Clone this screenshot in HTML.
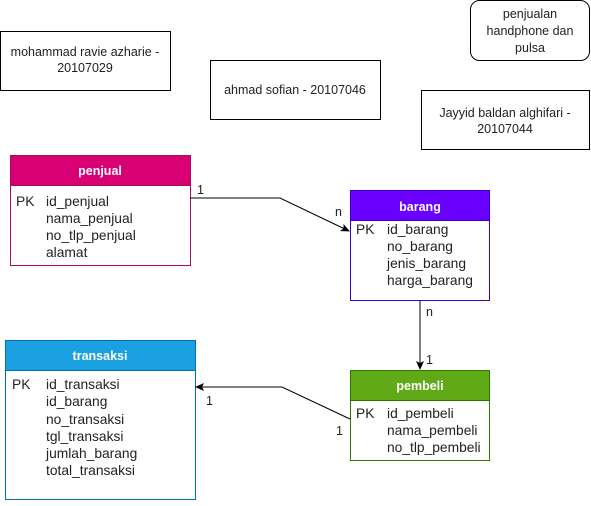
<!DOCTYPE html>
<html><head><style>
html,body{margin:0;padding:0;background:#fff;}
svg text{font-family:"Liberation Sans",sans-serif;font-size:12.5px;fill:#222;}
svg text.f{font-size:13.8px;}
</style></head><body>
<svg width="591" height="501" viewBox="0 0 591 501" xmlns="http://www.w3.org/2000/svg">
<defs><marker id="a" markerWidth="10" markerHeight="10" refX="8" refY="4" orient="auto" markerUnits="userSpaceOnUse"><path d="M0,0 L9,4 L0,8 L2,4 z" fill="#000"/></marker></defs>
<rect x="0.5" y="31.5" width="170" height="59" fill="#fff" stroke="#000"/>
<text x="85" y="56" text-anchor="middle" font-size="10.7">mohammad ravie azharie -</text>
<text x="85" y="72" text-anchor="middle" font-size="10.7">20107029</text>
<rect x="210.5" y="60.5" width="170" height="59" fill="#fff" stroke="#000"/>
<text x="295" y="94" text-anchor="middle" font-size="10.7">ahmad sofian - 20107046</text>
<rect x="421.5" y="90.5" width="168" height="59" fill="#fff" stroke="#000"/>
<text x="505" y="117" text-anchor="middle" font-size="10.7">Jayyid baldan alghifari -</text>
<text x="505" y="133" text-anchor="middle" font-size="10.7">20107044</text>
<rect x="470.5" y="0.5" width="119" height="60" rx="9" fill="#fff" stroke="#000"/>
<text x="530" y="18" text-anchor="middle">penjualan</text>
<text x="530" y="35" text-anchor="middle">handphone dan</text>
<text x="530" y="52" text-anchor="middle">pulsa</text>

<rect x="10.5" y="155.5" width="180" height="110" fill="#fff" stroke="#a50f5b"/>
<rect x="10.5" y="155.5" width="180" height="30" fill="#d80073" stroke="#a50f5b"/>
<text x="100" y="175" text-anchor="middle" font-weight="bold" style="fill:#fff">penjual</text>
<text class="f" x="16" y="206">PK</text><text class="f" x="46" y="206">id_penjual</text>
<text class="f" x="46" y="223">nama_penjual</text><text class="f" x="46" y="240">no_tlp_penjual</text><text class="f" x="46" y="257">alamat</text>

<rect x="350.5" y="190.5" width="139" height="110" fill="#fff" stroke="#3700cc"/>
<rect x="350.5" y="190.5" width="139" height="30" fill="#6a00ff" stroke="#3700cc"/>
<text x="420" y="211" text-anchor="middle" font-weight="bold" style="fill:#fff">barang</text>
<text class="f" x="356" y="234">PK</text><text class="f" x="387" y="234">id_barang</text>
<text class="f" x="387" y="251">no_barang</text><text class="f" x="387" y="268">jenis_barang</text><text class="f" x="387" y="285">harga_barang</text>

<rect x="350.5" y="370.5" width="139" height="90" fill="#fff" stroke="#2d7600"/>
<rect x="350.5" y="370.5" width="139" height="30" fill="#60a917" stroke="#2d7600"/>
<text x="420" y="390" text-anchor="middle" font-weight="bold" style="fill:#fff">pembeli</text>
<text class="f" x="356" y="418">PK</text><text class="f" x="387" y="418">id_pembeli</text>
<text class="f" x="387" y="435">nama_pembeli</text><text class="f" x="387" y="452">no_tlp_pembeli</text>

<rect x="5.5" y="340.5" width="190" height="159" fill="#fff" stroke="#006eaf"/>
<rect x="5.5" y="340.5" width="190" height="30" fill="#1ba1e2" stroke="#006eaf"/>
<text x="100" y="360" text-anchor="middle" font-weight="bold" style="fill:#fff">transaksi</text>
<text class="f" x="12" y="389">PK</text><text class="f" x="46" y="389">id_transaksi</text>
<text class="f" x="46" y="406">id_barang</text><text class="f" x="46" y="424">no_transaksi</text>
<text class="f" x="46" y="441">tgl_transaksi</text><text class="f" x="46" y="458">jumlah_barang</text><text class="f" x="46" y="475">total_transaksi</text>

<polyline points="190,198 280,198 349,231" fill="none" stroke="#000" marker-end="url(#a)"/>
<text x="197" y="194">1</text><text x="335" y="216">n</text>
<line x1="420" y1="301" x2="420" y2="369" stroke="#000" marker-end="url(#a)"/>
<text x="426" y="316">n</text><text x="426" y="364">1</text>
<polyline points="350,419 282,387 196,387" fill="none" stroke="#000" marker-end="url(#a)"/>
<text x="206" y="405">1</text><text x="336" y="435">1</text>
</svg>
</body></html>
